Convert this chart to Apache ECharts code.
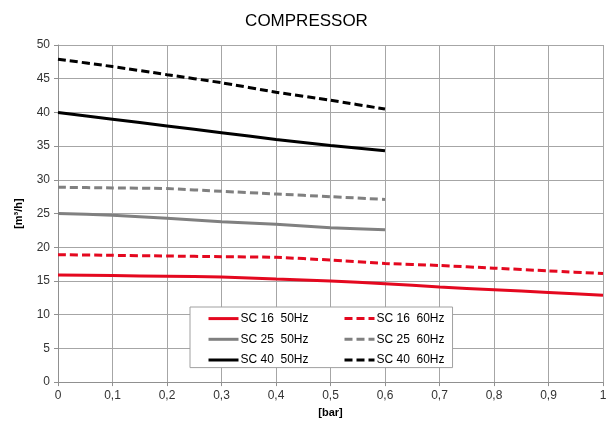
<!DOCTYPE html>
<html>
<head>
<meta charset="utf-8">
<script src="https://cdn.jsdelivr.net/npm/echarts@6/dist/echarts.min.js"></script>
<style>html,body{margin:0;padding:0;background:#fff}#c{width:613px;height:423px}</style>
</head>
<body>
<div id="c"></div>
<script>
var xFull = [0, 0.1, 0.2, 0.3, 0.4, 0.5, 0.6, 0.7, 0.8, 0.9, 1.0];
var xShort = [0, 0.1, 0.2, 0.3, 0.4, 0.5, 0.6];
var sc16_50 = [15.9, 15.8, 15.7, 15.6, 15.3, 15.0, 14.6, 14.1, 13.7, 13.3, 12.9];
var sc16_60 = [18.9, 18.8, 18.7, 18.6, 18.5, 18.1, 17.6, 17.3, 16.9, 16.5, 16.1];
var sc25_50 = [25.0, 24.75, 24.3, 23.8, 23.4, 22.9, 22.6];
var sc25_60 = [28.9, 28.8, 28.7, 28.3, 27.9, 27.5, 27.1];
var sc40_50 = [40.0, 39.0, 38.0, 37.0, 36.0, 35.1, 34.3];
var sc40_60 = [47.9, 46.8, 45.6, 44.4, 43.0, 41.8, 40.5];
var names = ['SC 16  50Hz', 'SC 16  60Hz', 'SC 25  50Hz', 'SC 25  60Hz', 'SC 40  50Hz', 'SC 40  60Hz'];

function pairs(xs, ys) { return ys.map(function (v, i) { return [xs[i], v]; }); }

var RED = '#e4081f', GREY = '#808080', BLACK = '#000000';
function mk(name, xs, ys, color, dashed) {
  return {
    name: name, type: 'line', data: pairs(xs, ys), showSymbol: false,
    smooth: 0.2, lineStyle: { color: color, width: 3, type: dashed ? [8, 4] : 'solid' },
    itemStyle: { color: color }, z: 3
  };
}
var font = 'Liberation Sans, Arial, sans-serif';
var legendCommon = {
  orient: 'vertical', itemGap: 7.5, itemWidth: 30, itemHeight: 14,
  itemStyle: { opacity: 0 },
  lineStyle: { width: 3 },
  textStyle: { fontFamily: font, fontSize: 12, color: '#000', padding: [0, 0, 0, -3] }
};
var chart = echarts.init(document.getElementById('c'));
chart.setOption({
  animation: false,
  backgroundColor: '#fff',
  title: { text: 'COMPRESSOR', left: 'center', top: 8, textStyle: { fontFamily: font, fontWeight: 'normal', fontSize: 17, color: '#000' } },
  grid: { left: 58, right: 10, top: 45, bottom: 38 },
  legend: [Object.assign({}, legendCommon, {
    data: [names[0], names[2], names[4]], left: 190, top: 307,
    padding: [5, 144, 1, 17],
    backgroundColor: '#fff', borderColor: '#a0a0a0', borderWidth: 1, borderRadius: 0, z: 6
  }), Object.assign({}, legendCommon, {
    data: [names[1], names[3], names[5]], left: 343, top: 312,
    padding: 0, z: 7
  })],
  xAxis: {
    type: 'value', min: 0, max: 1, interval: 0.1,
    name: '[bar]', nameLocation: 'middle', nameGap: 21,
    nameTextStyle: { fontFamily: font, fontWeight: 'bold', fontSize: 11, color: '#000' },
    axisLine: { lineStyle: { color: '#909090', width: 1 } },
    axisTick: { show: true, length: 4, lineStyle: { color: '#909090' } },
    axisLabel: { fontFamily: font, fontSize: 12, color: '#333', margin: 8,
      formatter: function (v) { return String(Math.round(v * 10) / 10).replace('.', ','); } },
    splitLine: { show: true, lineStyle: { color: '#a6a6a6', width: 1 } }
  },
  yAxis: {
    type: 'value', min: 0, max: 50, interval: 5,
    name: '[m\u00b3/h]', nameLocation: 'middle', nameGap: 34,
    nameTextStyle: { fontFamily: font, fontWeight: 'bold', fontSize: 11, color: '#000' },
    axisLine: { show: true, lineStyle: { color: '#909090', width: 1 } },
    axisTick: { show: true, length: 4, lineStyle: { color: '#909090' } },
    axisLabel: { fontFamily: font, fontSize: 12, color: '#333', margin: 8 },
    splitLine: { show: true, lineStyle: { color: '#a6a6a6', width: 1 } }
  },
  series: [
    mk(names[0], xFull, sc16_50, RED, false),
    mk(names[1], xFull, sc16_60, RED, true),
    mk(names[2], xShort, sc25_50, GREY, false),
    mk(names[3], xShort, sc25_60, GREY, true),
    mk(names[4], xShort, sc40_50, BLACK, false),
    mk(names[5], xShort, sc40_60, BLACK, true)
  ]
});
</script>
</body>
</html>
